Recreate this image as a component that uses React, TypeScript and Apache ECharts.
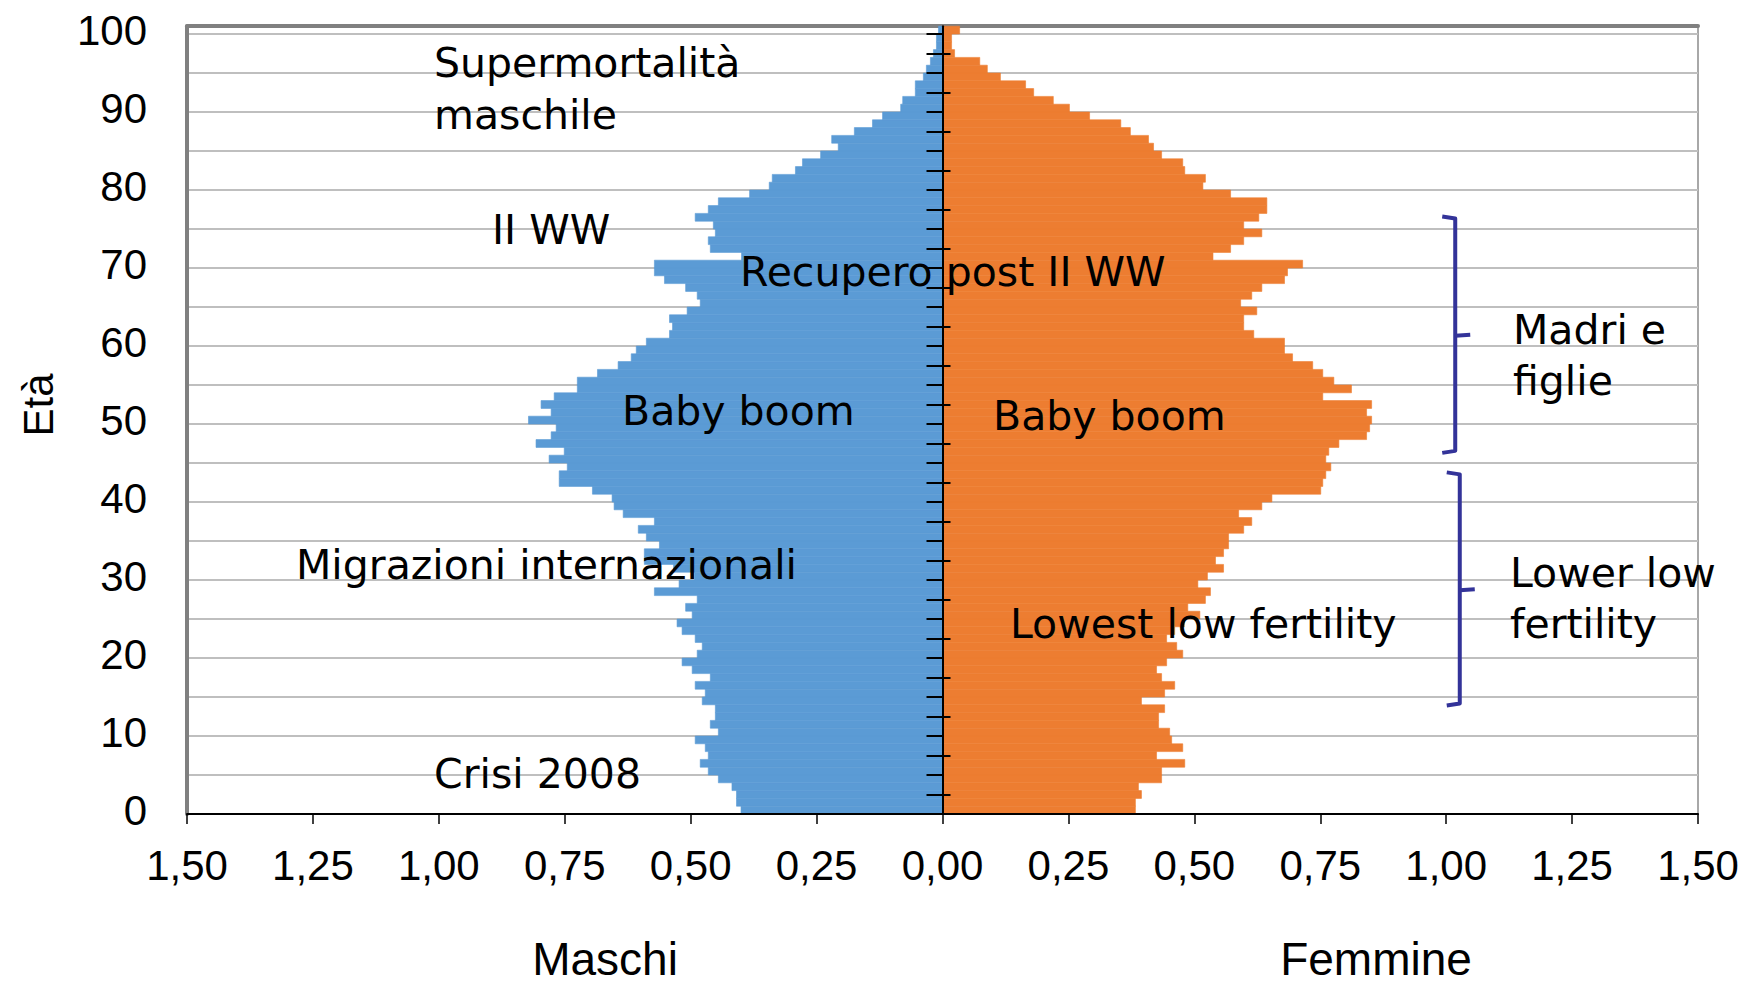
import { useEffect, useRef } from 'react';
import * as echarts from 'echarts';

// Età 0..100 (indice = età)
const maschi = [
  0.400, 0.409, 0.409, 0.418, 0.445, 0.465, 0.481, 0.465, 0.471, 0.491,
  0.445, 0.461, 0.451, 0.451, 0.477, 0.471, 0.491, 0.461, 0.497, 0.517,
  0.487, 0.477, 0.491, 0.517, 0.527, 0.497, 0.510, 0.487, 0.572, 0.523,
  0.492, 0.534, 0.592, 0.592, 0.562, 0.588, 0.604, 0.572, 0.634, 0.652,
  0.656, 0.695, 0.761, 0.761, 0.745, 0.781, 0.751, 0.807, 0.777, 0.767,
  0.822, 0.777, 0.797, 0.771, 0.725, 0.725, 0.685, 0.644, 0.618, 0.608,
  0.588, 0.542, 0.536, 0.542, 0.507, 0.481, 0.487, 0.510, 0.552, 0.572,
  0.572, 0.399, 0.461, 0.465, 0.451, 0.455, 0.491, 0.465, 0.445, 0.383,
  0.344, 0.338, 0.292, 0.278, 0.242, 0.207, 0.220, 0.175, 0.139, 0.119,
  0.083, 0.079, 0.054, 0.054, 0.038, 0.032, 0.024, 0.018, 0.012, 0.012,
  0.008,
];

const femmine = [
  0.383, 0.383, 0.395, 0.389, 0.435, 0.435, 0.481, 0.425, 0.477, 0.455,
  0.451, 0.429, 0.429, 0.441, 0.395, 0.441, 0.461, 0.435, 0.425, 0.445,
  0.477, 0.465, 0.445, 0.461, 0.480, 0.511, 0.487, 0.522, 0.532, 0.507,
  0.526, 0.558, 0.542, 0.558, 0.568, 0.568, 0.598, 0.614, 0.588, 0.634,
  0.654, 0.751, 0.755, 0.761, 0.771, 0.761, 0.767, 0.787, 0.842, 0.848,
  0.852, 0.842, 0.852, 0.755, 0.812, 0.777, 0.755, 0.735, 0.695, 0.679,
  0.679, 0.618, 0.598, 0.598, 0.624, 0.592, 0.614, 0.634, 0.679, 0.685,
  0.715, 0.537, 0.572, 0.598, 0.634, 0.598, 0.628, 0.644, 0.644, 0.572,
  0.517, 0.522, 0.481, 0.477, 0.435, 0.419, 0.409, 0.373, 0.354, 0.292,
  0.252, 0.220, 0.181, 0.165, 0.115, 0.089, 0.074, 0.024, 0.018, 0.018,
  0.034,
];

const yTickLabels = ['0', '10', '20', '30', '40', '50', '60', '70', '80', '90', '100'];

const annotations = [
  { text: 'Supermortalità', x: 434, y: 63 },
  { text: 'maschile', x: 434, y: 115 },
  { text: 'II WW', x: 492, y: 230 },
  { text: 'Recupero post II WW', x: 740, y: 272 },
  { text: 'Baby boom', x: 622, y: 411 },
  { text: 'Baby boom', x: 993, y: 416 },
  { text: 'Migrazioni internazionali', x: 296, y: 565 },
  { text: 'Lowest low fertility', x: 1010, y: 624 },
  { text: 'Crisi 2008', x: 434, y: 774 },
  { text: 'Madri e', x: 1513, y: 330 },
  { text: 'figlie', x: 1513, y: 381 },
  { text: 'Lower low', x: 1510, y: 573 },
  { text: 'fertility', x: 1510, y: 624 },
];

// brackets: age range and x value where the vertical stroke sits
const brackets = [
  { from: 46.3, to: 76.6, mid: 61.3, at: 1.018 },
  { from: 13.9, to: 43.8, mid: 28.7, at: 1.027 },
];

const BLUE = '#5B9BD5';
const ORANGE = '#ED7D31';
const BRACKET = '#333399';

// half-year steps used only for the tick marks on the central axis
const halfSteps = Array.from({ length: 203 }, (_, i) => String(i / 2));

const fmtX = (v: number) => Math.abs(v).toFixed(2).replace('.', ',');

const makeRender = (color: string) => (params: any, api: any) => {
  const v = api.value(0) as number;
  const age = api.value(1) as number;
  const a = api.coord([0, age + 1]);
  const b = api.coord([v, age]);
  return {
    type: 'rect',
    shape: {
      x: Math.min(a[0], b[0]),
      y: a[1],
      width: Math.abs(b[0] - a[0]),
      height: b[1] - a[1],
    },
    style: { fill: color, stroke: color, lineWidth: 0.6 },
  };
};

export default function App() {
  const ref = useRef<HTMLDivElement>(null);

  useEffect(() => {
    if (!ref.current) return;
    const chart = echarts.init(ref.current, null, { renderer: 'svg' });
    const option: any = {
      animation: false,
      backgroundColor: '#fff',
      grid: {
        left: 187,
        right: 55,
        top: 26.2,
        bottom: 171,
        show: true,
        borderColor: '#8c8c8c',
        borderWidth: 1.5,
        containLabel: false,
        outerBoundsMode: 'none',
      },
      xAxis: [
        {
          type: 'value',
          min: -1.5,
          max: 1.5,
          interval: 0.25,
          position: 'bottom',
          z: 10,
          axisLine: { show: true, onZero: false, lineStyle: { color: '#000', width: 2 } },
          axisTick: { show: true, length: 10, lineStyle: { color: '#000', width: 1.5 } },
          axisLabel: {
            formatter: fmtX,
            fontSize: 42,
            fontFamily: 'Liberation Sans',
            color: '#000',
            margin: 30,
          },
          splitLine: { show: false },
        },
        {
          type: 'value',
          min: -1.5,
          max: 1.5,
          position: 'top',
          axisLine: { show: true, onZero: false, lineStyle: { color: '#808080', width: 4 } },
          axisTick: { show: false },
          axisLabel: { show: false },
          splitLine: { show: false },
        },
      ],
      yAxis: [
        {
          type: 'value',
          min: 0,
          max: 101,
          interval: 5,
          position: 'left',
          axisLine: { show: true, onZero: false, lineStyle: { color: '#808080', width: 4 } },
          axisTick: { show: false },
          axisLabel: {
            formatter: (v: number) => (yTickLabels.includes(String(v)) ? String(v) : ''),
            fontSize: 42,
            fontFamily: 'Liberation Sans',
            color: '#000',
            margin: 40,
            verticalAlign: 'bottom',
            lineHeight: 8,
          },
          splitLine: { show: true, lineStyle: { color: '#BFBFBF', width: 2 } },
        },
        {
          type: 'category',
          data: halfSteps,
          boundaryGap: false,
          position: 'left',
          z: 10,
          axisLine: { show: true, onZero: true, onZeroAxisIndex: 0, lineStyle: { color: '#000', width: 2 } },
          axisTick: {
            show: true,
            length: 16,
            interval: (i: number) => i % 5 === 0 && i < 202,
            lineStyle: { color: '#000', width: 2 },
          },
          axisLabel: { show: false },
          splitLine: { show: false },
        },
        {
          type: 'category',
          data: halfSteps,
          boundaryGap: false,
          position: 'right',
          z: 10,
          axisLine: { show: false, onZero: true, onZeroAxisIndex: 0 },
          axisTick: {
            show: true,
            length: 8,
            interval: (i: number) => i % 10 === 5,
            lineStyle: { color: '#000', width: 2 },
          },
          axisLabel: { show: false },
          splitLine: { show: false },
        },
      ],
      series: [
        {
          type: 'custom',
          name: 'Maschi',
          xAxisIndex: 0,
          yAxisIndex: 0,
          z: 2,
          renderItem: makeRender(BLUE),
          data: maschi.map((v, i) => [-v, i]),
        },
        {
          type: 'custom',
          name: 'Femmine',
          xAxisIndex: 0,
          yAxisIndex: 0,
          z: 2,
          renderItem: makeRender(ORANGE),
          data: femmine.map((v, i) => [v, i]),
        },
      ],
    };
    chart.setOption(option);

    const toPx = (x: number, y: number) =>
      chart.convertToPixel({ xAxisIndex: 0, yAxisIndex: 0 }, [x, y]) as number[];

    const graphics: any[] = [];
    annotations.forEach((a) => {
      graphics.push({
        type: 'text',
        x: a.x,
        y: a.y,
        z: 20,
        style: {
          text: a.text,
          fontSize: 41,
          fontFamily: 'DejaVu Sans',
          fill: '#000',
          align: 'left',
          verticalAlign: 'middle',
        },
      });
    });
    brackets.forEach((b) => {
      const top = toPx(b.at, b.to);
      const bot = toPx(b.at, b.from);
      const mid = toPx(b.at, b.mid);
      graphics.push({
        type: 'polyline',
        z: 20,
        shape: {
          points: [
            [top[0] - 13, top[1]],
            [top[0], top[1] + 2],
            [bot[0], bot[1] - 2],
            [bot[0] - 13, bot[1]],
          ],
        },
        style: { stroke: BRACKET, lineWidth: 4, fill: null, lineJoin: 'round' },
      });
      graphics.push({
        type: 'line',
        z: 20,
        shape: { x1: mid[0], y1: mid[1], x2: mid[0] + 15, y2: mid[1] - 1 },
        style: { stroke: BRACKET, lineWidth: 4 },
      });
    });
    graphics.push({
      type: 'text',
      x: 38,
      y: 405,
      rotation: Math.PI / 2,
      z: 20,
      style: {
        text: 'Età',
        fontSize: 42,
        fontFamily: 'Liberation Sans',
        fill: '#000',
        align: 'center',
        verticalAlign: 'middle',
      },
    });
    graphics.push({
      type: 'text',
      x: 605,
      y: 959,
      z: 20,
      style: {
        text: 'Maschi',
        fontSize: 46,
        fontFamily: 'Liberation Sans',
        fill: '#000',
        align: 'center',
        verticalAlign: 'middle',
      },
    });
    graphics.push({
      type: 'text',
      x: 1376,
      y: 959,
      z: 20,
      style: {
        text: 'Femmine',
        fontSize: 46,
        fontFamily: 'Liberation Sans',
        fill: '#000',
        align: 'center',
        verticalAlign: 'middle',
      },
    });
    chart.setOption({ graphic: graphics });

    return () => chart.dispose();
  }, []);

  return (
    <div
      ref={ref}
      style={{ position: 'absolute', left: 0, top: 0, width: 1753, height: 985 }}
    />
  );
}
